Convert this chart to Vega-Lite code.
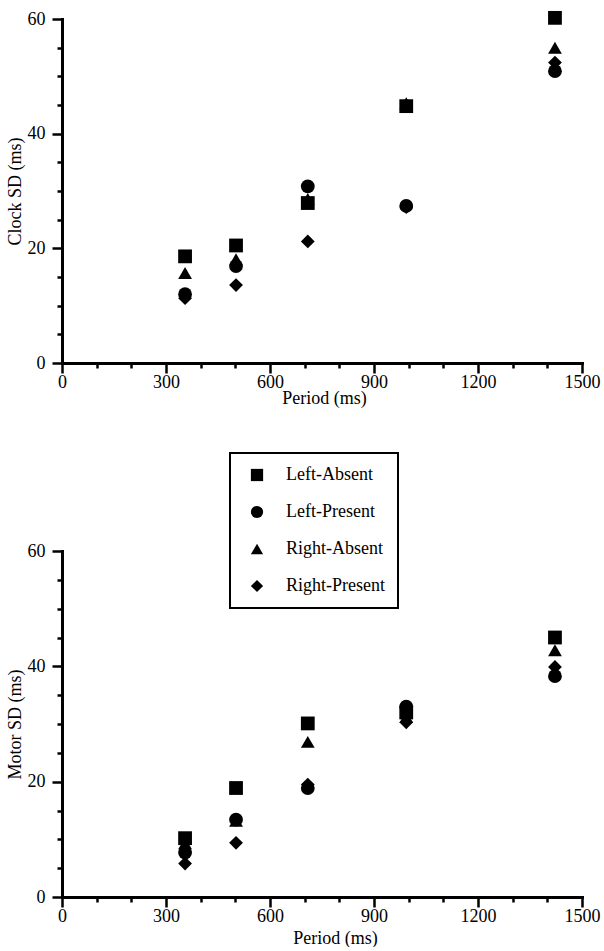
{
  "$schema": "https://vega.github.io/schema/vega-lite/v6.json",
  "background": "white",
  "padding": {"left": 6, "top": 10, "right": 2, "bottom": 0},
  "config": {
    "font": "Liberation Serif",
    "view": {"stroke": null},
    "legend": {"strokeWidth": 2},
    "axis": {
      "domainColor": "black", "domainWidth": 3, "domainCap": "square",
      "tickColor": "black", "tickWidth": 2.5,
      "labelColor": "black", "labelFontSize": 18, "labelFont": "Liberation Serif",
      "titleColor": "black", "titleFontSize": 18, "titleFont": "Liberation Serif", "titleFontWeight": "normal",
      "grid": false, "labelOverlap": false, "labelFlush": false, "labelBound": false
    }
  },
  "datasets": {
    "clock": [
      {"period": 355, "group": "Left-Absent", "sd": 18.6},
      {"period": 355, "group": "Right-Absent", "sd": 15.7},
      {"period": 355, "group": "Right-Present", "sd": 11.3},
      {"period": 355, "group": "Left-Present", "sd": 12.0},
      {"period": 502, "group": "Left-Absent", "sd": 20.5},
      {"period": 502, "group": "Right-Absent", "sd": 18.1},
      {"period": 502, "group": "Left-Present", "sd": 16.9},
      {"period": 502, "group": "Right-Present", "sd": 13.6},
      {"period": 709, "group": "Right-Absent", "sd": 28.6},
      {"period": 709, "group": "Left-Absent", "sd": 27.9},
      {"period": 709, "group": "Left-Present", "sd": 30.8},
      {"period": 709, "group": "Right-Present", "sd": 21.2},
      {"period": 993, "group": "Right-Absent", "sd": 45.3},
      {"period": 993, "group": "Left-Absent", "sd": 44.8},
      {"period": 993, "group": "Right-Present", "sd": 27.2},
      {"period": 993, "group": "Left-Present", "sd": 27.4},
      {"period": 1422, "group": "Left-Absent", "sd": 60.2},
      {"period": 1422, "group": "Right-Absent", "sd": 55.0},
      {"period": 1422, "group": "Right-Present", "sd": 52.4},
      {"period": 1422, "group": "Left-Present", "sd": 50.9}
    ],
    "motor": [
      {"period": 355, "group": "Right-Absent", "sd": 9.3},
      {"period": 355, "group": "Left-Absent", "sd": 10.2},
      {"period": 355, "group": "Right-Present", "sd": 5.8},
      {"period": 355, "group": "Left-Present", "sd": 7.7},
      {"period": 502, "group": "Left-Absent", "sd": 18.9},
      {"period": 502, "group": "Right-Absent", "sd": 13.2},
      {"period": 502, "group": "Left-Present", "sd": 13.4},
      {"period": 502, "group": "Right-Present", "sd": 9.4},
      {"period": 709, "group": "Left-Absent", "sd": 30.1},
      {"period": 709, "group": "Right-Absent", "sd": 26.9},
      {"period": 709, "group": "Right-Present", "sd": 19.5},
      {"period": 709, "group": "Left-Present", "sd": 18.9},
      {"period": 993, "group": "Left-Absent", "sd": 32.0},
      {"period": 993, "group": "Right-Absent", "sd": 31.2},
      {"period": 993, "group": "Right-Present", "sd": 30.3},
      {"period": 993, "group": "Left-Present", "sd": 33.0},
      {"period": 1422, "group": "Left-Absent", "sd": 45.0},
      {"period": 1422, "group": "Right-Absent", "sd": 42.8},
      {"period": 1422, "group": "Right-Present", "sd": 39.9},
      {"period": 1422, "group": "Left-Present", "sd": 38.3}
    ]
  },
  "spacing": 45,
  "resolve": {"scale": {"shape": "independent"}, "legend": {"shape": "independent"}},
  "vconcat": [
    {
      "width": 520,
      "height": 344,
      "data": {"name": "clock"},
      "mark": {"type": "point", "filled": true, "color": "black", "opacity": 1, "size": 190, "strokeWidth": 0},
      "encoding": {
        "x": {
          "field": "period", "type": "quantitative",
          "scale": {"domain": [0, 1500], "nice": false, "zero": true},
          "axis": {
            "title": "Period (ms)", "format": "d",
            "values": [0, 100, 200, 300, 400, 500, 600, 700, 800, 900, 1000, 1100, 1200, 1300, 1400, 1500],
            "labelExpr": "datum.value % 300 === 0 ? datum.label : ''",
            "tickSize": {"condition": {"test": "datum.value % 300 === 0", "value": 10}, "value": 5},
            "labelPadding": 0, "titlePadding": -2, "titleX": 262
          }
        },
        "y": {
          "field": "sd", "type": "quantitative",
          "scale": {"domain": [0, 60], "nice": false},
          "axis": {
            "title": "Clock SD (ms)", "format": "d",
            "values": [0, 5, 10, 15, 20, 25, 30, 35, 40, 45, 50, 55, 60],
            "labelExpr": "datum.value % 20 === 0 ? datum.label : ''",
            "tickSize": {"condition": {"test": "datum.value % 20 === 0", "value": 10}, "value": 5},
            "labelPadding": 7, "titlePadding": 3
          }
        },
        "shape": {
          "field": "group", "type": "nominal",
          "scale": {"domain": ["Left-Absent", "Left-Present", "Right-Absent", "Right-Present"], "range": ["square", "circle", "triangle-up", "diamond"]},
          "legend": null
        }
      }
    },
    {
      "width": 520,
      "height": 346,
      "data": {"name": "motor"},
      "mark": {"type": "point", "filled": true, "color": "black", "opacity": 1, "size": 190, "strokeWidth": 0},
      "encoding": {
        "x": {
          "field": "period", "type": "quantitative",
          "scale": {"domain": [0, 1500], "nice": false, "zero": true},
          "axis": {
            "title": "Period (ms)", "format": "d",
            "values": [0, 100, 200, 300, 400, 500, 600, 700, 800, 900, 1000, 1100, 1200, 1300, 1400, 1500],
            "labelExpr": "datum.value % 300 === 0 ? datum.label : ''",
            "tickSize": {"condition": {"test": "datum.value % 300 === 0", "value": 10}, "value": 5},
            "labelPadding": 0, "titlePadding": 4, "titleX": 273
          }
        },
        "y": {
          "field": "sd", "type": "quantitative",
          "scale": {"domain": [0, 60], "nice": false},
          "axis": {
            "title": "Motor SD (ms)", "format": "d",
            "values": [0, 5, 10, 15, 20, 25, 30, 35, 40, 45, 50, 55, 60],
            "labelExpr": "datum.value % 20 === 0 ? datum.label : ''",
            "tickSize": {"condition": {"test": "datum.value % 20 === 0", "value": 10}, "value": 5},
            "labelPadding": 7, "titlePadding": 3
          }
        },
        "shape": {
          "field": "group", "type": "nominal",
          "scale": {"domain": ["Left-Absent", "Left-Present", "Right-Absent", "Right-Present"], "range": ["square", "circle", "triangle-up", "diamond"]},
          "legend": {
            "title": null, "orient": "none", "legendX": 168, "legendY": -98,
            "strokeColor": "black", "fillColor": "white",
            "padding": 13, "symbolSize": 150, "symbolFillColor": "black", "symbolStrokeWidth": 0,
            "symbolOpacity": 1, "symbolOffset": 5,
            "labelFontSize": 18, "labelFont": "Liberation Serif", "labelColor": "black",
            "rowPadding": 19, "labelOffset": 20, "labelLimit": 300
          }
        }
      }
    }
  ]
}
